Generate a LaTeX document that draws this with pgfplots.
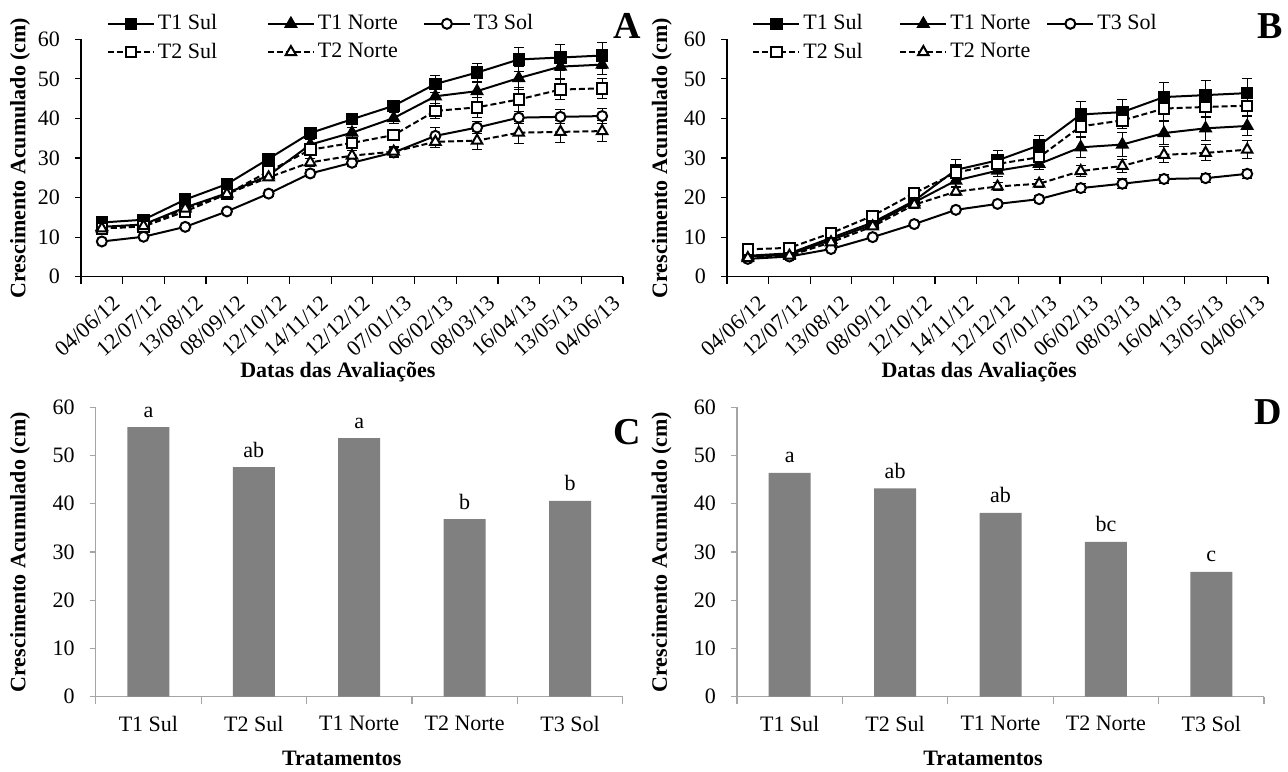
\documentclass[border=0pt]{standalone}
\usepackage{fontspec}
\setmainfont{Liberation Serif}
\usepackage{pgfplots}
\pgfplotsset{compat=1.18}

\definecolor{barfill}{RGB}{128,128,128}
\definecolor{axgray}{RGB}{165,165,165}

\newcommand{\txsize}{\rmfamily\fontsize{11}{13}\selectfont}

\pgfplotsset{
  common/.style={
    scale only axis,
    ymin=0, ymax=60, ytick={0,10,...,60},
    axis lines*=left,
    tick align=outside,
    major tick length=3pt, minor tick length=3.5pt,
    major x tick style={draw=none},
    /pgf/number format/assume math mode=true,
    tick label style={font=\txsize},
    yticklabel style={xshift=-4pt},
    label style={font=\txsize\bfseries},
  },
  linepanel/.style={
    common,
    width=271pt, height=118.7pt,
    xmin=-0.5, xmax=12.5,
    axis line style={black, line width=0.6pt},
    tick style={black, line width=0.6pt},
    xtick={0,...,12}, minor xtick={-0.5,0.5,...,12.5},
    xticklabels={04/06/12,12/07/12,13/08/12,08/09/12,12/10/12,14/11/12,12/12/12,
                 07/01/13,06/02/13,08/03/13,16/04/13,13/05/13,04/06/13},
    x tick label style={font=\txsize, rotate=42, anchor=north east, xshift=3pt, yshift=-4pt},
    ylabel={Crescimento Acumulado (cm)},
    xlabel={Datas das Avaliações},
    legend columns=3,
    legend cell align=left,
    legend image code/.code={%
      \draw[mark repeat=2,mark phase=2,##1] plot coordinates {(0pt,0pt)(11.5pt,0pt)(23pt,0pt)};},
    error bars/y dir=both, error bars/y explicit,
    error bars/error mark options={black, mark size=2.5pt, line width=0.5pt, rotate=90},
    error bars/error bar style={black, solid, line width=0.5pt},
  },
  barpanel/.style={
    common,
    width=263.5pt, height=144.7pt,
    xmin=-0.5, xmax=4.5,
    axis line style={axgray, line width=0.6pt},
    tick style={axgray, line width=0.6pt},
    xtick={0,...,4}, minor xtick={-0.5,0.5,...,4.5},
    xticklabels={T1 Sul, T2 Sul, T1 Norte, T2 Norte, T3 Sol},
    x tick label style={yshift=-3pt},
    ylabel={Crescimento Acumulado (cm)},
    xlabel={Tratamentos},
    ybar, bar width=21pt,
    point meta=explicit symbolic,
    nodes near coords,
    every node near coord/.append style={anchor=base, yshift=5pt, font=\txsize},
  },
  ln/.style={black, line width=1pt},
  sul1/.style={ln, mark=square*, mark size=2.6pt, mark options={solid, fill=black}},
  norte1/.style={ln, mark=triangle*, mark size=3pt, mark options={solid, fill=black}},
  sol3/.style={ln, mark=*, mark size=2.5pt, mark options={solid, fill=white}},
  sul2/.style={ln, dash pattern=on 3pt off 1.5pt, mark=square*, mark size=2.6pt, mark options={solid, fill=white}},
  norte2/.style={ln, dash pattern=on 3pt off 1.5pt, mark=triangle*, mark size=3pt, mark options={solid, fill=white}},
}

\begin{document}
\begin{tikzpicture}
\path[use as bounding box] (0,0) rectangle (644pt,-385.5pt);

% ---------- A ----------
\begin{axis}[linepanel, at={(40.5pt,-138.35pt)}, anchor=south west,
  ylabel style={at={(axis description cs:-0.1125,0.5)}, anchor=center},
  xlabel style={at={(axis description cs:0.474,-0.40)}, anchor=center},
  legend style={at={(0.036,1.135)}, anchor=north west, draw=none, fill=none,
    font=\txsize, row sep=2pt, nodes={inner sep=1.5pt}},
]
\addplot[sul1] coordinates {
 (0,13.7) +- (0,0.7) (1,14.4) +- (0,0.6) (2,19.5) +- (0,0.8) (3,23.4) +- (0,0.8)
 (4,29.8) +- (0,0.8) (5,36.3) +- (0,1.0) (6,39.8) +- (0,1.0) (7,43.2) +- (0,1.4)
 (8,48.7) +- (0,2.1) (9,51.6) +- (0,2.4) (10,54.9) +- (0,3.0) (11,55.4) +- (0,3.2)
 (12,55.9) +- (0,3.2)};
\addlegendentry{\makebox[53pt][l]{T1 Sul}}
\addplot[norte1] coordinates {
 (0,12.6) +- (0,0.6) (1,13.2) +- (0,0.6) (2,17.5) +- (0,0.8) (3,21.1) +- (0,0.8)
 (4,25.6) +- (0,0.8) (5,33.4) +- (0,1.2) (6,36.4) +- (0,1.2) (7,40.1) +- (0,1.4)
 (8,45.6) +- (0,1.8) (9,46.9) +- (0,2.5) (10,50.2) +- (0,3.0) (11,53.1) +- (0,3.0)
 (12,53.6) +- (0,2.6)};
\addlegendentry{\makebox[51pt][l]{T1 Norte}}
\addplot[sol3] coordinates {
 (0,8.9) +- (0,0.4) (1,10.1) +- (0,0.5) (2,12.6) +- (0,0.6) (3,16.5) +- (0,0.6)
 (4,21.0) +- (0,0.7) (5,26.1) +- (0,0.9) (6,28.8) +- (0,1.0) (7,31.4) +- (0,1.2)
 (8,35.6) +- (0,2.2) (9,37.7) +- (0,1.5) (10,40.2) +- (0,1.5) (11,40.4) +- (0,1.8)
 (12,40.6) +- (0,1.8)};
\addlegendentry{T3 Sol}
\addplot[sul2] coordinates {
 (0,12.2) +- (0,0.6) (1,12.7) +- (0,0.6) (2,16.5) +- (0,0.8) (3,20.9) +- (0,0.8)
 (4,26.6) +- (0,0.8) (5,32.1) +- (0,1.0) (6,33.8) +- (0,1.2) (7,35.8) +- (0,1.4)
 (8,41.9) +- (0,2.0) (9,42.8) +- (0,2.5) (10,44.8) +- (0,3.0) (11,47.3) +- (0,2.5)
 (12,47.6) +- (0,2.5)};
\addlegendentry{\makebox[53pt][l]{T2 Sul}}
\addplot[norte2] coordinates {
 (0,12.2) +- (0,0.5) (1,12.8) +- (0,0.5) (2,17.2) +- (0,0.7) (3,20.9) +- (0,0.8)
 (4,25.1) +- (0,0.9) (5,28.9) +- (0,1.0) (6,30.6) +- (0,1.2) (7,31.6) +- (0,1.2)
 (8,34.1) +- (0,1.5) (9,34.4) +- (0,2.2) (10,36.4) +- (0,2.8) (11,36.6) +- (0,2.8)
 (12,36.8) +- (0,2.6)};
\addlegendentry{\makebox[51pt][l]{T2 Norte}}
\end{axis}

% ---------- B ----------
\begin{axis}[linepanel, at={(363.5pt,-138.35pt)}, anchor=south west, width=270.5pt,
  ylabel style={at={(axis description cs:-0.1207,0.5)}, anchor=center},
  xlabel style={at={(axis description cs:0.466,-0.40)}, anchor=center},
  legend style={at={(0.035,1.135)}, anchor=north west, draw=none, fill=none,
    font=\txsize, row sep=2pt, nodes={inner sep=1.5pt}},
]
\addplot[sul1] coordinates {
 (0,5.3) +- (0,0.4) (1,5.9) +- (0,0.4) (2,9.8) +- (0,0.6) (3,13.7) +- (0,0.8)
 (4,19.2) +- (0,1.0) (5,27.0) +- (0,2.6) (6,29.4) +- (0,2.6) (7,33.2) +- (0,2.6)
 (8,41.0) +- (0,3.4) (9,41.6) +- (0,3.3) (10,45.4) +- (0,3.7) (11,45.9) +- (0,3.7)
 (12,46.4) +- (0,3.7)};
\addlegendentry{\makebox[46.5pt][l]{T1 Sul}}
\addplot[norte1] coordinates {
 (0,5.1) +- (0,0.4) (1,5.6) +- (0,0.4) (2,9.3) +- (0,0.6) (3,13.2) +- (0,0.8)
 (4,18.8) +- (0,1.0) (5,24.3) +- (0,1.5) (6,26.8) +- (0,1.5) (7,28.5) +- (0,1.5)
 (8,32.7) +- (0,2.5) (9,33.4) +- (0,3.0) (10,36.3) +- (0,3.0) (11,37.5) +- (0,3.0)
 (12,38.1) +- (0,2.5)};
\addlegendentry{\makebox[46.5pt][l]{T1 Norte}}
\addplot[sol3] coordinates {
 (0,4.5) +- (0,0.3) (1,5.1) +- (0,0.3) (2,7.0) +- (0,0.4) (3,10.0) +- (0,0.5)
 (4,13.3) +- (0,0.5) (5,16.9) +- (0,0.6) (6,18.4) +- (0,0.6) (7,19.6) +- (0,0.8)
 (8,22.4) +- (0,1.2) (9,23.5) +- (0,1.2) (10,24.7) +- (0,1.2) (11,24.9) +- (0,1.2)
 (12,26.0) +- (0,1.2)};
\addlegendentry{T3 Sol}
\addplot[sul2] coordinates {
 (0,6.9) +- (0,0.4) (1,7.3) +- (0,0.4) (2,11.0) +- (0,0.6) (3,15.4) +- (0,0.8)
 (4,21.1) +- (0,1.0) (5,26.3) +- (0,1.5) (6,28.5) +- (0,2.0) (7,30.2) +- (0,2.0)
 (8,38.0) +- (0,2.5) (9,39.5) +- (0,2.0) (10,42.5) +- (0,3.0) (11,42.9) +- (0,2.6)
 (12,43.2) +- (0,2.5)};
\addlegendentry{\makebox[46.5pt][l]{T2 Sul}}
\addplot[norte2] coordinates {
 (0,4.7) +- (0,0.4) (1,5.3) +- (0,0.4) (2,8.7) +- (0,0.6) (3,12.7) +- (0,0.8)
 (4,18.2) +- (0,0.9) (5,21.5) +- (0,1.0) (6,22.8) +- (0,1.0) (7,23.5) +- (0,1.0)
 (8,26.7) +- (0,1.5) (9,28.0) +- (0,1.7) (10,30.8) +- (0,2.0) (11,31.3) +- (0,2.0)
 (12,32.1) +- (0,2.2)};
\addlegendentry{\makebox[46.5pt][l]{T2 Norte}}
\end{axis}

% ---------- C ----------
\begin{axis}[barpanel, at={(47.85pt,-348.35pt)}, anchor=south west,
  ylabel style={at={(axis description cs:-0.1436,0.5)}, anchor=center},
  xlabel style={at={(axis description cs:0.467,-0.212)}, anchor=center},
]
\addplot[fill=barfill, draw=none] coordinates {
 (0,55.9)[a] (1,47.6)[ab] (2,53.6)[a] (3,36.8)[b] (4,40.6)[b]};
\end{axis}

% ---------- D ----------
\begin{axis}[barpanel, at={(368.5pt,-348.35pt)}, anchor=south west,
  ylabel style={at={(axis description cs:-0.1429,0.5)}, anchor=center},
  xlabel style={at={(axis description cs:0.467,-0.212)}, anchor=center},
]
\addplot[fill=barfill, draw=none] coordinates {
 (0,46.4)[a] (1,43.2)[ab] (2,38.1)[ab] (3,32.1)[bc] (4,25.9)[c]};
\end{axis}

\begin{scope}[font=\rmfamily\fontsize{19}{19}\selectfont\bfseries]
\node at (313.5pt,-12.75pt) {A};
\node at (635.2pt,-13pt) {B};
\node at (313.5pt,-216pt) {C};
\node at (634pt,-206pt) {D};
\end{scope}
\end{tikzpicture}
\end{document}
